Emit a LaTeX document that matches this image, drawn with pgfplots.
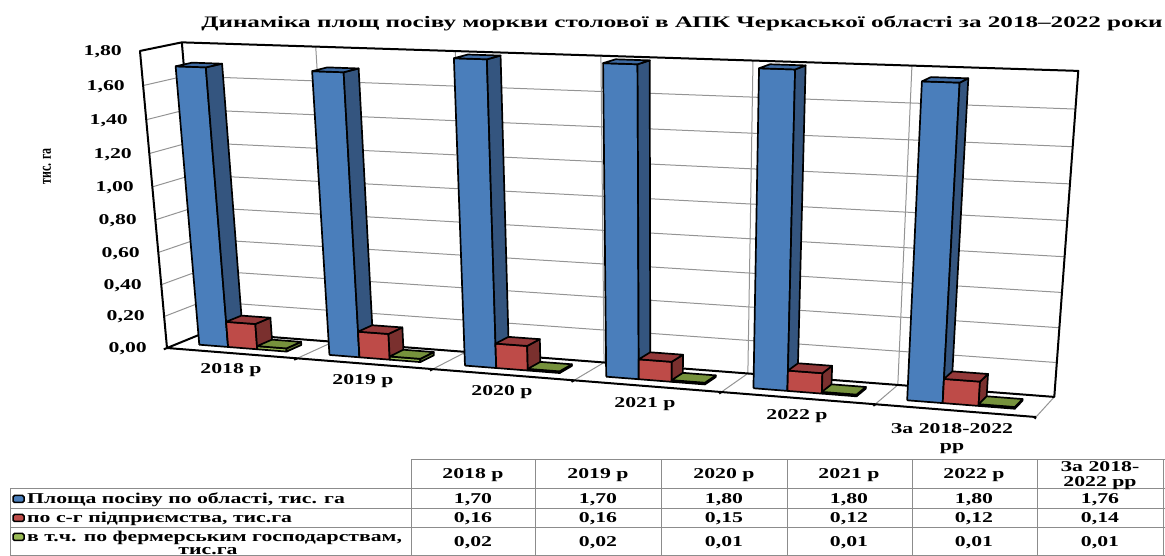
\documentclass[border=0pt]{standalone}
\usepackage{fontspec}
\setmainfont{Liberation Serif}[FakeStretch=1.45]
\newfontfamily\narrowfont{Liberation Serif}[FakeStretch=0.7]
\newfontfamily\titlefont{Liberation Serif}[FakeStretch=1.57]
\usepackage{pgfplots}
\pgfplotsset{compat=1.18}

\definecolor{bluef}{HTML}{4A7EBB}
\definecolor{blues}{HTML}{34557F}
\definecolor{bluet}{HTML}{3F6BA3}
\definecolor{redf}{HTML}{BE4B48}
\definecolor{reds}{HTML}{7A302E}
\definecolor{redt}{HTML}{95393A}
\definecolor{greenf}{HTML}{98B954}
\definecolor{greens}{HTML}{5F7530}
\definecolor{greent}{HTML}{76923C}

% one 3D bar: category, slot, value, colours of front, side, top
\newcommand{\tdbar}[6]{%
  \addplot[bar,fill=#4] table[row sep=\\,
    x expr={PX(#1+0.16+#2*0.225+\thisrow{w}*0.225,\thisrow{d},\thisrow{v})},
    y expr={PY(#1+0.16+#2*0.225+\thisrow{w}*0.225,\thisrow{d},\thisrow{v})}]
    {w d v\\ 0 0.3 0\\ 1 0.3 0\\ 1 0.3 #3\\ 0 0.3 #3\\ 0 0.3 0\\};
  \addplot[bar,fill=#5] table[row sep=\\,
    x expr={PX(#1+0.16+#2*0.225+\thisrow{w}*0.225,\thisrow{d},\thisrow{v})},
    y expr={PY(#1+0.16+#2*0.225+\thisrow{w}*0.225,\thisrow{d},\thisrow{v})}]
    {w d v\\ 1 0.3 0\\ 1 0.7 0\\ 1 0.7 #3\\ 1 0.3 #3\\ 1 0.3 0\\};
  \addplot[bar,fill=#6] table[row sep=\\,
    x expr={PX(#1+0.16+#2*0.225+\thisrow{w}*0.225,\thisrow{d},\thisrow{v})},
    y expr={PY(#1+0.16+#2*0.225+\thisrow{w}*0.225,\thisrow{d},\thisrow{v})}]
    {w d v\\ 0 0.3 #3\\ 1 0.3 #3\\ 1 0.7 #3\\ 0 0.7 #3\\ 0 0.3 #3\\};
}
% a line in chart space: style, then rows "u d v\\"
\newcommand{\chartline}[2]{%
  \addplot[#1,no markers] table[row sep=\\,
    x expr={PX(\thisrow{u},\thisrow{d},\thisrow{v})},
    y expr={PY(\thisrow{u},\thisrow{d},\thisrow{v})}]
    {u d v\\ #2};
}

\begin{document}
\begin{tikzpicture}
\path[use as bounding box] (0,0) rectangle (1165pt,556pt);
\begin{axis}[
    at={(0,0)}, anchor=south west,
    width=1165pt, height=556pt, scale only axis,
    xmin=0, xmax=1165, ymin=0, ymax=556, y dir=reverse,
    hide axis, clip=false,
    declare function={
      den(\u,\d,\v)=1-0.119*\u/6+0.027*\d-0.052*\v/1.8;
      PX(\u,\d,\v)=(167+745.7*\u/6+44.6*\d-34.3*\v/1.8)/den(\u,\d,\v);
      PY(\u,\d,\v)=(348+19.4*\u/6-7*\d-299.7*\v/1.8)/den(\u,\d,\v);
    },
    grid line/.style={draw=black!42,line width=1pt},
    frame line/.style={draw=black,line width=2pt,line join=round},
    bar/.style={draw=black,line width=1.7pt,line join=round,no markers},
]
% gridlines on left and back wall
\chartline{grid line}{0 0 0.2\\ 0 1 0.2\\ 6 1 0.2\\}
\chartline{grid line}{0 0 0.4\\ 0 1 0.4\\ 6 1 0.4\\}
\chartline{grid line}{0 0 0.6\\ 0 1 0.6\\ 6 1 0.6\\}
\chartline{grid line}{0 0 0.8\\ 0 1 0.8\\ 6 1 0.8\\}
\chartline{grid line}{0 0 1.0\\ 0 1 1.0\\ 6 1 1.0\\}
\chartline{grid line}{0 0 1.2\\ 0 1 1.2\\ 6 1 1.2\\}
\chartline{grid line}{0 0 1.4\\ 0 1 1.4\\ 6 1 1.4\\}
\chartline{grid line}{0 0 1.6\\ 0 1 1.6\\ 6 1 1.6\\}
% verticals on back wall and floor lines
\chartline{grid line}{1 0 0\\ 1 1 0\\ 1 1 1.8\\}
\chartline{grid line}{2 0 0\\ 2 1 0\\ 2 1 1.8\\}
\chartline{grid line}{3 0 0\\ 3 1 0\\ 3 1 1.8\\}
\chartline{grid line}{4 0 0\\ 4 1 0\\ 4 1 1.8\\}
\chartline{grid line}{5 0 0\\ 5 1 0\\ 5 1 1.8\\}
\chartline{grid line}{6 0 0\\ 6 1 0\\}
% frame
\chartline{frame line}{0 0 0\\ 0 1 0\\ 6 1 0\\ 6 1 1.8\\ 0 1 1.8\\ 0 0 1.8\\ 0 0 0\\ 6 0 0\\}
\chartline{frame line}{0 1 0\\ 0 1 1.8\\}
% ticks along the floor edge
\chartline{frame line}{0 0 0\\ 0 -0.08 0\\}
\chartline{frame line}{1 0 0\\ 1 -0.08 0\\}
\chartline{frame line}{2 0 0\\ 2 -0.08 0\\}
\chartline{frame line}{3 0 0\\ 3 -0.08 0\\}
\chartline{frame line}{4 0 0\\ 4 -0.08 0\\}
\chartline{frame line}{5 0 0\\ 5 -0.08 0\\}
\chartline{frame line}{6 0 0\\ 6 -0.08 0\\}
% 2018
\tdbar{0}{0}{1.70}{bluef}{blues}{bluet}
\tdbar{0}{1}{0.16}{redf}{reds}{redt}
\tdbar{0}{2}{0.02}{greenf}{greens}{greent}
% 2019
\tdbar{1}{0}{1.70}{bluef}{blues}{bluet}
\tdbar{1}{1}{0.16}{redf}{reds}{redt}
\tdbar{1}{2}{0.02}{greenf}{greens}{greent}
% 2020
\tdbar{2}{0}{1.80}{bluef}{blues}{bluet}
\tdbar{2}{1}{0.15}{redf}{reds}{redt}
\tdbar{2}{2}{0.01}{greenf}{greens}{greent}
% 2021
\tdbar{3}{0}{1.80}{bluef}{blues}{bluet}
\tdbar{3}{1}{0.12}{redf}{reds}{redt}
\tdbar{3}{2}{0.01}{greenf}{greens}{greent}
% 2022
\tdbar{4}{0}{1.80}{bluef}{blues}{bluet}
\tdbar{4}{1}{0.12}{redf}{reds}{redt}
\tdbar{4}{2}{0.01}{greenf}{greens}{greent}
% 2018-2022
\tdbar{5}{0}{1.76}{bluef}{blues}{bluet}
\tdbar{5}{1}{0.14}{redf}{reds}{redt}
\tdbar{5}{2}{0.01}{greenf}{greens}{greent}
\end{axis}

% texts and the data table, in picture pixels from the top left
\begin{scope}[x=1pt,y=-1pt,yshift=556pt,every node/.style={font=\fontsize{15}{16}\selectfont\bfseries,inner sep=0pt,yshift=-1.5pt}]
\node[font=\titlefont\fontsize{16}{17}\selectfont\bfseries] at (682,22) {Динаміка площ посіву моркви столової в АПК Черкаської області за 2018–2022 роки};
\foreach \t/\xx/\yy in {{1,80/122/50},{1,60/125/85},{1,40/128/119},{1,20/132/153},{1,00/134/186},{0,80/137/219},{0,60/140/252},{0,40/142/284},{0,20/145/315},{0,00/147/347}}
  \node[anchor=east] at (\xx,\yy) {\t};
\node[rotate=90,font=\narrowfont\fontsize{17}{18}\selectfont\bfseries] at (47,165) {тис. га};
\foreach \t/\xx/\yy in {2018 р/231/369,2019 р/363/380,2020 р/502/391,2021 р/645/403,2022 р/797/415}
  \node at (\xx,\yy) {\t};
\node[align=center] at (952,437) {За 2018-2022\\[1pt]рр};

% table
\begin{scope}[draw=black!45,line width=1pt]
\draw (411,460) -- (1165,460);
\draw (10,489) -- (1165,489);
\draw (10,509) -- (1165,509);
\draw (10,528) -- (1165,528);
\draw (10,556) -- (1165,556);
\draw (10,489) -- (10,556);
\foreach \xx in {411,535,661,787,912,1037,1163}
  \draw (\xx,460) -- (\xx,556);
\end{scope}
\foreach \cx/\a/\b/\c/\d in {{473/2018 р/1,70/0,16/0,02},{598/2019 р/1,70/0,16/0,02},{724/2020 р/1,80/0,15/0,01},{849/2021 р/1,80/0,12/0,01},{974/2022 р/1,80/0,12/0,01}}{
  \node at (\cx,474) {\a};
  \node at (\cx,498) {\b};
  \node at (\cx,517) {\c};
  \node at (\cx,541) {\d};
}
\node[align=center] at (1100,474) {За 2018-\\[-1pt]2022 рр};
\node at (1100,498) {1,76};
\node at (1100,517) {0,14};
\node at (1100,541) {0,01};
% legend keys
\foreach \yy/\cc in {499/bluef,518/redf,537/greenf}
  \draw[black,line width=1.5pt,fill=\cc,rounded corners=1.5pt] (13,\yy-3.5) rectangle (24,\yy+3.5);
\node[anchor=west] at (27,498) {Площа  посіву по області, тис. га};
\node[anchor=west] at (27,517) {по с-г  підприємства, тис.га};
\node[anchor=west] at (27,536) {в т.ч. по фермерським  господарствам,};
\node at (208,550) {тис.га};
\end{scope}
\end{tikzpicture}
\end{document}
